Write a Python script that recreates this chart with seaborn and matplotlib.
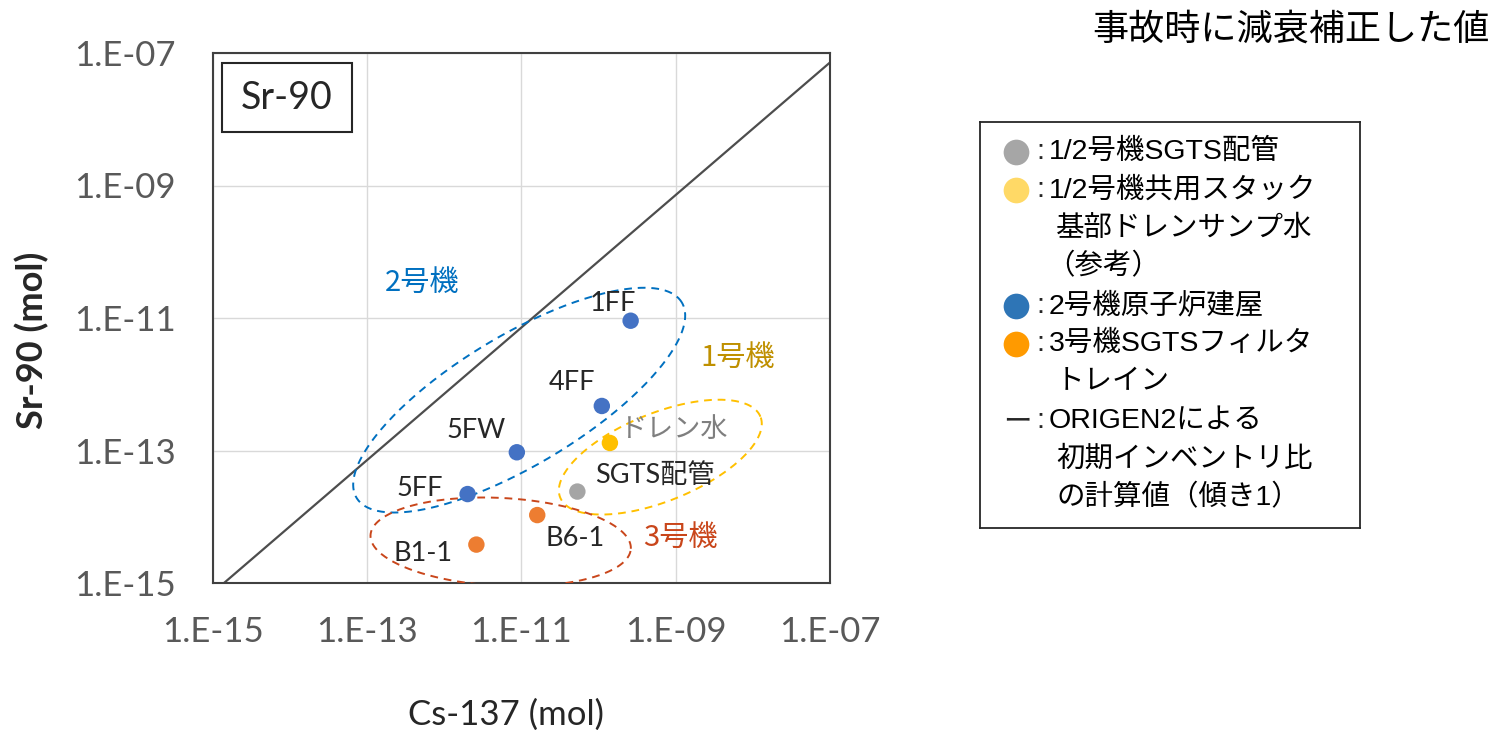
import numpy as np
import pandas as pd
import matplotlib
matplotlib.use("Agg")
import matplotlib.pyplot as plt
import matplotlib.ticker as mticker
from matplotlib.patches import Rectangle
import seaborn as sns

# データ（事故時に減衰補正した値）
labels = ["1FF", "4FF", "5FW", "5FF", "ドレン水", "SGTS配管", "B6-1", "B1-1"]
cs137 = [2.6e-10, 1.1e-10, 8.7e-12, 2.0e-12, 1.4e-10, 5.3e-11, 1.6e-11, 2.6e-12]
sr90 = [9.1e-12, 4.7e-13, 9.4e-14, 2.2e-14, 1.3e-13, 2.4e-14, 1.06e-14, 3.8e-15]
groups = ["unit2", "unit2", "unit2", "unit2", "stack", "sgts12", "unit3", "unit3"]

# ORIGEN2 初期インベントリ比（傾き1）
origen_ratio = 0.72
axis_range = [1e-15, 1e-7]
tick_values = [1e-15, 1e-13, 1e-11, 1e-9, 1e-7]

point_colors = {"sgts12": "#A5A5A5", "stack": "#FFC000", "unit2": "#4472C4", "unit3": "#ED7D31"}

# 凡例
legend_colors = ["#A6A6A6", "#FFD966", "#2E75B6", "#FF9A00", None]
legend_texts = [
    ["1/2号機SGTS配管"],
    ["1/2号機共用スタック", "基部ドレンサンプ水", "（参考）"],
    ["2号機原子炉建屋"],
    ["3号機SGTSフィルタ", "トレイン"],
    ["ORIGEN2による", "初期インベントリ比", "の計算値（傾き1）"],
]

# グループの楕円（中心は log10、半径は x の桁数、角度は度）
ellipses = [
    {"c": (-11.03, -12.24), "a": 2.46, "b": 0.84, "ang": 31, "color": "#0070C0"},
    {"c": (-9.20, -13.10), "a": 1.40, "b": 0.57, "ang": 22, "color": "#FFC000"},
    {"c": (-11.27, -14.38), "a": 1.69, "b": 0.57, "ang": -3, "color": "#C9461B"},
]
group_texts = [("2号機", 0.339, 0.566, "#0070C0"),
               ("1号機", 0.851, 0.4245, "#BF9000"),
               ("3号機", 0.757, 0.085, "#C9461B")]
# ラベルの位置（点からのオフセット, pt）
label_offsets = [(-13, 12.5), (-21.6, 16.6), (-29.5, 15.8), (-34.6, 4.3),
                 (46.5, 9.4), (56, 10.8), (27.4, -16.6), (-38.2, -6.5)]
label_colors = ["#262626"] * 4 + ["#7F7F7F", "#262626", "#262626", "#262626"]

sns.set_style("white")
plt.rcParams['font.family'] = ['Lato', 'Noto Sans CJK JP', 'DejaVu Sans']
jp = ['Noto Sans CJK JP', 'DejaVu Sans']
mixed = ['Lato', 'Noto Sans CJK JP', 'DejaVu Sans']
legend_font = ['Liberation Sans', 'Noto Sans CJK JP', 'DejaVu Sans']

W, H = 1491, 730
fig = plt.figure(figsize=(W / 100, H / 100), dpi=100)
ax = fig.add_axes([213 / W, 1 - 583 / H, 617 / W, 530 / H])

df = pd.DataFrame({"Cs137": cs137, "Sr90": sr90, "group": groups, "label": labels})

# ORIGEN2 line
line_x = np.array(axis_range)
sns.lineplot(x=line_x, y=origen_ratio * line_x, ax=ax, color="#4D4D4D", lw=1.6, zorder=2)

sns.scatterplot(data=df, x="Cs137", y="Sr90", hue="group", palette=point_colors,
                s=140, edgecolor="none", legend=False, ax=ax, zorder=4)

ax.set_xscale("log")
ax.set_yscale("log")
ax.set_xlim(axis_range)
ax.set_ylim(axis_range)
fmt = mticker.FuncFormatter(lambda v, p: "1.E-%02d" % round(-np.log10(v)))
for axis in (ax.xaxis, ax.yaxis):
    axis.set_major_locator(mticker.FixedLocator(tick_values))
    axis.set_minor_locator(mticker.NullLocator())
    axis.set_major_formatter(fmt)
ax.tick_params(axis="both", length=0, labelsize=25, labelcolor="#595959")
ax.tick_params(axis="x", pad=24)
ax.tick_params(axis="y", pad=27)
ax.grid(True, color="#D9D9D9", lw=1.0)
ax.set_xlabel("")
ax.set_ylabel("")
for sp in ax.spines.values():
    sp.set_color("#404040")
    sp.set_linewidth(1.5)

# 楕円（対数空間で描く）
pos = ax.get_position()
px_x = pos.width * W / 8
px_y = pos.height * H / 8
t = np.linspace(0, 2 * np.pi, 300)
for e in ellipses:
    th = np.radians(e["ang"])
    dx = e["a"] * np.cos(t) * np.cos(th) - e["b"] * np.sin(t) * np.sin(th)
    dy = e["a"] * np.cos(t) * np.sin(th) + e["b"] * np.sin(t) * np.cos(th)
    ex = 10 ** (e["c"][0] + dx)
    ey = 10 ** (e["c"][1] + dy * px_x / px_y)
    ax.plot(ex, ey, ls=(0, (4, 3)), color=e["color"], lw=1.4, zorder=3)

for txt, x, y, c in group_texts:
    ax.text(x, y, txt, transform=ax.transAxes, color=c, fontsize=21,
            family=jp, ha="center", va="center")

for i, row in df.iterrows():
    ax.annotate(row["label"], (row["Cs137"], row["Sr90"]), xytext=label_offsets[i],
                textcoords="offset points", ha="center", va="center", fontsize=19.5,
                color=label_colors[i], family=mixed, zorder=5)

# Sr-90 box
ax.add_patch(Rectangle((0.0146, 0.8515), 0.2107, 0.1295, transform=ax.transAxes,
                       facecolor="white", edgecolor="#262626", lw=1.5, zorder=5))
ax.text(0.12, 0.916, "Sr-90", transform=ax.transAxes, fontsize=27, color="#262626",
        ha="center", va="center", zorder=6)

fig.text(506 / W, 1 - 715 / H, "Cs-137 (mol)", fontsize=25, color="#262626",
         ha="center", va="center")
fig.text(32 / W, 1 - 340 / H, "Sr-90 (mol)", fontsize=26, fontweight="bold",
         color="#262626", ha="center", va="center", rotation=90)

fig.text(1490 / W, 1 - 30 / H, "事故時に減衰補正した値", fontsize=26, family=jp,
         ha="right", va="center", color="black")

# 凡例ボックス
lax = fig.add_axes([980 / W, 1 - 528 / H, 380 / W, 406 / H])
lax.set_xlim(0, 380)
lax.set_ylim(406, 0)
lax.set_xticks([])
lax.set_yticks([])
for sp in lax.spines.values():
    sp.set_color("#262626")
    sp.set_linewidth(1.3)
row_y = 30
step = 38.4
for col, lines in zip(legend_colors, legend_texts):
    if col is None:
        lax.text(37, row_y, "ー", fontsize=20.5, family=jp, ha="center", va="center")
    else:
        lax.plot(36, row_y, "o", ms=18.5, color=col, mec="none")
    lax.text(60, row_y, ":", fontsize=20.5, family=legend_font, ha="center", va="center")
    for k, ln in enumerate(lines):
        x0 = 69 if k == 0 else 76
        if ln.startswith("（"):
            x0 -= 10
        lax.text(x0, row_y, ln, fontsize=20.5, family=legend_font,
                 ha="left", va="center", color="black")
        row_y += step

fig.savefig("out.png", dpi=100)
